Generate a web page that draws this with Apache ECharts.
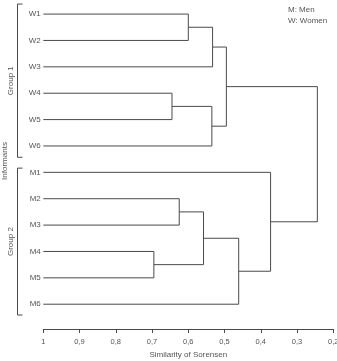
<!DOCTYPE html>
<html>
<head>
<meta charset="utf-8">
<script src="https://cdn.jsdelivr.net/npm/echarts@6/dist/echarts.min.js"></script>
<style>html,body{margin:0;padding:0;background:#fff;}#c{width:337px;height:361px;}</style>
</head>
<body>
<div id="c"></div>
<script>
// Leaves (top to bottom)
var leaves = ['W1','W2','W3','W4','W5','W6','M1','M2','M3','M4','M5','M6'];
// Merges: [left node, right node, similarity]; node index >= leaves.length refers to an earlier merge
var merges = [
  [0, 1, 0.600],   // 12: W1-W2
  [12, 2, 0.533],  // 13
  [3, 4, 0.645],   // 14: W4-W5
  [14, 5, 0.535],  // 15
  [13, 15, 0.495], // 16: women
  [7, 8, 0.625],   // 17: M2-M3
  [9, 10, 0.695],  // 18: M4-M5
  [17, 18, 0.558], // 19
  [19, 11, 0.461], // 20
  [6, 20, 0.373],  // 21: men
  [16, 21, 0.244]  // 22: root
];
var groups = [
  ['Group 1', 0, 5],
  ['Group 2', 6, 11]
];
var xTicks = [1, 0.9, 0.8, 0.7, 0.6, 0.5, 0.4, 0.3, 0.2];
var legendLines = ['M: Men', 'W: Women'];
var yTitle = 'Informants';
var xTitle = 'Similarity of Sorensen';

// Build node positions
var nodeY = [], nodeH = [];
leaves.forEach(function(l, i){ nodeY.push(i); nodeH.push(1); });
var segData = [];
merges.forEach(function(m){
  var yL = nodeY[m[0]], yR = nodeY[m[1]];
  segData.push([yL, nodeH[m[0]], yR, nodeH[m[1]], m[2]]);
  nodeY.push((yL + yR) / 2);
  nodeH.push(m[2]);
});
var leafData = leaves.map(function(l, i){ return [i, 1, l]; });
var groupData = groups.map(function(g){ return [g[1], g[2], g[0]]; });

var lineColor = '#4a4a4a';
var textColor = '#555';
var fontFamily = 'Liberation Sans, Arial, sans-serif';

var chart = echarts.init(document.getElementById('c'));
chart.setOption({
  animation: false,
  grid: { left: 43.3, right: 3.7, top: 3, bottom: 32, outerBoundsMode: 'none' },
  xAxis: {
    type: 'value', min: 0.2, max: 1, interval: 0.1, inverse: true,
    name: xTitle, nameLocation: 'middle', nameGap: 22,
    nameTextStyle: { color: textColor, fontSize: 8, fontFamily: fontFamily },
    axisLine: { onZero: false, lineStyle: { color: lineColor, width: 1 } },
    axisTick: { length: 4, lineStyle: { color: lineColor } },
    axisLabel: { color: textColor, fontSize: 7.5, fontFamily: fontFamily, margin: 8.5,
      formatter: function(v){ return String(Math.round(v * 10) / 10).replace('.', ','); } },
    splitLine: { show: false }
  },
  yAxis: {
    type: 'value', min: -0.42, max: 11.94, inverse: true,
    axisLine: { show: false }, axisTick: { show: false }, axisLabel: { show: false },
    splitLine: { show: false }
  },
  graphic: [{
    type: 'text', left: 288, top: 5,
    style: { text: legendLines.join('\n'), fill: textColor, font: '8px ' + fontFamily, lineHeight: 10.5 }
  }, {
    type: 'text', x: 4.5, y: 161, rotation: Math.PI / 2,
    style: { text: yTitle, align: 'center', verticalAlign: 'middle', fill: textColor, font: '8px ' + fontFamily }
  }],
  series: [
    {
      type: 'custom', clip: false,
      data: segData,
      encode: { x: [1, 3, 4], y: [0, 2] },
      renderItem: function(params, api){
        var yL = api.value(0), hL = api.value(1), yR = api.value(2), hR = api.value(3), h = api.value(4);
        var pts = [api.coord([hL, yL]), api.coord([h, yL]), api.coord([h, yR]), api.coord([hR, yR])];
        return { type: 'polyline', shape: { points: pts }, style: { stroke: lineColor, lineWidth: 1, fill: null } };
      }
    },
    {
      type: 'custom', clip: false,
      data: leafData,
      encode: { x: 1, y: 0 },
      renderItem: function(params, api){
        var p = api.coord([api.value(1), api.value(0)]);
        return { type: 'text', style: { text: leaves[params.dataIndex], x: p[0] - 2.5, y: p[1], align: 'right', verticalAlign: 'middle', fill: textColor, font: '8px ' + fontFamily } };
      }
    },
    {
      type: 'custom', clip: false,
      data: groupData,
      encode: { y: [0, 1] },
      renderItem: function(params, api){
        var i = params.dataIndex;
        var ext = i === 0 ? [0.38, 0.43] : [0.16, 0.41];
        var top = api.coord([1, api.value(0) - ext[0]])[1];
        var bot = api.coord([1, api.value(1) + ext[1]])[1];
        var bx = 17.5;
        return { type: 'group', children: [
          { type: 'polyline', shape: { points: [[bx + 5, top], [bx, top], [bx, bot], [bx + 5, bot]] }, style: { stroke: lineColor, lineWidth: 1, fill: null } },
          { type: 'text', x: 10.5, y: (top + bot) / 2, rotation: Math.PI / 2,
            style: { text: groups[i][0], align: 'center', verticalAlign: 'middle', fill: textColor, font: '8px ' + fontFamily } }
        ] };
      }
    }
  ]
});
</script>
</body>
</html>
